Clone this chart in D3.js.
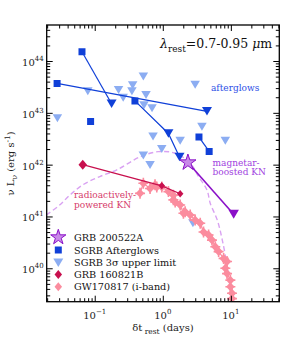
<!DOCTYPE html>
<html><head><meta charset="utf-8">
<script src="https://cdn.jsdelivr.net/npm/d3@7"></script>
<style>
body{margin:0;background:#fff}
svg{display:block}
text{font-family:"DejaVu Serif",serif}
</style>
</head><body>
<svg id="c" width="296" height="347"></svg>
<script>
// ---------------- data (rest-frame days, erg/s) ----------------
const afterglowT     = [0.065, 0.028, 0.087, 0.39, 3.4, 4.8];
const afterglowL     = [1.51e44, 3.7e43, 6.8e42, 1.7e43, 3.4e42, 1.8e42];
const afterglowGroup = ["a", "b", "c", "d", "e", "e"];

const afterglowLimT     = [0.177, 4.46, 1.21, 1.76];
const afterglowLimL     = [1.5e43, 1.07e43, 4.0e42, 1.4e42];
const afterglowLimGroup = ["a", "b", "d", "d"];

const upperLimT = [0.0283, 0.0791, 0.224, 0.262, 0.361, 0.352, 0.518, 0.567, 0.530, 0.695,
                   2.99, 3.76, 8.29, 0.719, 1.80, 0.966, 0.518, 0.650, 2.77];
const upperLimL = [7.9e42, 2.6e43, 2.75e43, 1.95e43, 3.4e43, 2.6e43, 5.0e43, 2.2e43, 1.4e43, 1.23e43,
                   3.5e43, 5.4e42, 2.9e42, 3.5e42, 2.9e42, 2.0e42, 1.5e42, 9.8e41, 7.4e40];

const grb200522aT = [2.34];
const grb200522aL = [1.1e42];
const magnetarLimT = [11.0];
const magnetarLimL = [1.1e41];

const modelT = [0.0195, 0.0305, 0.043, 0.0667, 0.119, 0.212, 0.462, 0.853, 1.52, 2.53,
                3.35, 4.46, 4.99, 6.32, 7.50, 8.87, 9.84, 10.5];
const modelL = [1.07e41, 1.66e41, 2.57e41, 4.07e41, 5.89e41, 7.94e41, 1.41e42, 1.78e42, 1.66e42, 1.07e42,
                5.89e41, 3.24e41, 1.78e41, 8.5e40, 3.47e40, 1.05e40, 3.8e39, 2.34e39];

const grb160821bT = [0.0667, 0.966, 1.80];
const grb160821bL = [1.0e42, 3.9e41, 2.75e41];

const gwT = [0.463, 0.518, 0.65, 0.769, 0.816, 0.967, 1.21, 1.43, 1.43, 1.52, 1.80, 2.01, 2.13, 2.53, 2.99,
             3.55, 3.97, 4.71, 5.28, 5.91, 6.61, 7.83, 8.79, 8.30, 8.79, 9.84, 9.84, 10.4, 10.4];
const gwL = [2.79e41, 4.37e41, 3.47e41, 4.07e41, 3.72e41, 3.72e41, 3.02e41, 2.57e41, 2.09e41, 1.91e41,
             1.66e41, 1.15e41, 1.23e41, 1.07e41, 8.5e40, 7.4e40, 5.0e40, 4.4e40, 3.5e40, 2.6e40, 2.1e40,
             1.55e40, 1.35e40, 1.0e40, 7.9e39, 5.9e39, 4.4e39, 3.3e39, 2.6e39];

const xTickValues = [0.1, 1, 10];
const xTickExp    = ["-1", "0", "1"];
const yTickValues = [1e40, 1e41, 1e42, 1e43, 1e44];
const yTickExp    = ["40", "41", "42", "43", "44"];

const legendLabels = ["GRB 200522A", "SGRB Afterglows", "SGRB 3\u03c3 upper limit", "GRB 160821B", "GW170817 (i-band)"];

// ---------------- styles ----------------
const C = {
  dark: "#1040d8", light: "#8cadf2", purple: "#8a10c8", starFill: "#c98ae8",
  model: "#d9a2f2", crimson: "#c8104e", pink: "#fb8c9e",
  agText: "#2d4fe6", magText: "#a040e0", radText: "#d63a6a"
};

const L = 46.7, R = 279.3, T = 25, B = 301.7;
const svg = d3.select("#c");
const x = d3.scaleLog().domain([0.0197, 51.5]).range([L, R]);
const y = d3.scaleLog().domain([Math.pow(10, 39.355), Math.pow(10, 44.695)]).range([B, T]);

svg.append("defs").append("clipPath").attr("id", "clip")
  .append("rect").attr("x", L).attr("y", T).attr("width", R - L).attr("height", B - T);
const plot = svg.append("g").attr("clip-path", "url(#clip)");

// marker path helpers
function triDown(w, h) { return `M${-w/2},${-h/2}L${w/2},${-h/2}L0,${h/2}Z`; }
function diamond(w, h) { return `M0,${-h/2}L${w/2},0L0,${h/2}L${-w/2},0Z`; }
function square(s) { return `M${-s/2},${-s/2}h${s}v${s}h${-s}Z`; }
function star(Ro) {
  const Ri = Ro * 0.382; let p = "";
  for (let i = 0; i < 10; i++) {
    const r = i % 2 ? Ri : Ro, a = -Math.PI / 2 + i * Math.PI / 5;
    p += (i ? "L" : "M") + (r * Math.cos(a)).toFixed(2) + "," + (r * Math.sin(a)).toFixed(2);
  }
  return p + "Z";
}

// magnetar-boosted KN model (dashed)
const line = d3.line().x(d => x(d[0])).y(d => y(d[1]));
plot.append("path")
  .attr("d", line.curve(d3.curveCatmullRom)(modelT.map((t, i) => [t, modelL[i]])))
  .attr("fill", "none").attr("stroke", C.model).attr("stroke-width", 1.4).attr("stroke-dasharray", "5,3");
line.curve(d3.curveLinear);

// SGRB 3-sigma upper limits
plot.selectAll(".ul").data(upperLimT.map((t, i) => [t, upperLimL[i]])).join("path")
  .attr("transform", d => `translate(${x(d[0])},${y(d[1])})`)
  .attr("d", triDown(9.5, 8)).attr("fill", C.light);

// GW170817
const gw = gwT.map((t, i) => [t, gwL[i]]);
plot.append("path").attr("d", line(gw))
  .attr("fill", "none").attr("stroke", C.pink).attr("stroke-width", 1.2);
plot.selectAll(".gwe").data(gw).join("line")
  .attr("x1", d => x(d[0])).attr("x2", d => x(d[0]))
  .attr("y1", d => y(d[1]) - 5.5).attr("y2", d => y(d[1]) + 5.5)
  .attr("stroke", C.pink).attr("stroke-width", 1.6);
plot.selectAll(".gwh").data(gw).join("line")
  .attr("x1", d => x(d[0]) - 5).attr("x2", d => x(d[0]) + 5)
  .attr("y1", d => y(d[1])).attr("y2", d => y(d[1]))
  .attr("stroke", C.pink).attr("stroke-width", 1.6);
plot.selectAll(".gw").data(gw).join("path")
  .attr("transform", d => `translate(${x(d[0])},${y(d[1])})`)
  .attr("d", diamond(8.5, 9)).attr("fill", C.pink);

// GRB 160821B
const g16 = grb160821bT.map((t, i) => [t, grb160821bL[i]]);
plot.append("path").attr("d", line(g16)).attr("fill", "none").attr("stroke", C.crimson).attr("stroke-width", 1.2);
plot.selectAll(".g16").data(g16).join("path")
  .attr("transform", d => `translate(${x(d[0])},${y(d[1])})`)
  .attr("d", (d, i) => i === 0 ? diamond(8.5, 10) : diamond(6.5, 7.5)).attr("fill", C.crimson);

// SGRB afterglows: lines per burst
const groups = Array.from(new Set(afterglowGroup.concat(afterglowLimGroup)));
groups.forEach(g => {
  const pts = [];
  afterglowT.forEach((t, i) => { if (afterglowGroup[i] === g) pts.push([t, afterglowL[i]]); });
  afterglowLimT.forEach((t, i) => { if (afterglowLimGroup[i] === g) pts.push([t, afterglowLimL[i]]); });
  pts.sort((a, b) => a[0] - b[0]);
  if (pts.length > 1)
    plot.append("path").attr("d", line(pts)).attr("fill", "none").attr("stroke", C.dark).attr("stroke-width", 1.2);
});
plot.selectAll(".agl").data(afterglowLimT.map((t, i) => [t, afterglowLimL[i]])).join("path")
  .attr("transform", d => `translate(${x(d[0])},${y(d[1])})`)
  .attr("d", triDown(10, 8.5)).attr("fill", C.dark);
plot.selectAll(".ag").data(afterglowT.map((t, i) => [t, afterglowL[i]])).join("path")
  .attr("transform", d => `translate(${x(d[0])},${y(d[1])})`)
  .attr("d", square(7)).attr("fill", C.dark);

// GRB 200522A + magnetar limit
plot.append("path").attr("d", line([[grb200522aT[0], grb200522aL[0]], [magnetarLimT[0], magnetarLimL[0]]]))
  .attr("stroke", C.purple).attr("stroke-width", 1.6).attr("fill", "none");
plot.selectAll(".ml").data(magnetarLimT.map((t, i) => [t, magnetarLimL[i]])).join("path")
  .attr("transform", d => `translate(${x(d[0])},${y(d[1])})`)
  .attr("d", triDown(10.5, 9)).attr("fill", C.purple);
plot.selectAll(".st").data(grb200522aT.map((t, i) => [t, grb200522aL[i]])).join("path")
  .attr("transform", d => `translate(${x(d[0])},${y(d[1])})`)
  .attr("d", star(8.5)).attr("fill", C.starFill).attr("stroke", C.purple).attr("stroke-width", 1);

// ---------------- axes ----------------
function minorTicks(scale) {
  const [a, b] = scale.domain(), out = [];
  for (let k = Math.floor(Math.log10(a)); k <= Math.ceil(Math.log10(b)); k++)
    for (let m = 2; m <= 9; m++) { const v = m * Math.pow(10, k); if (v >= a && v <= b) out.push(v); }
  return out;
}
function drawAxis(axisFn, scale, vals, size, tr) {
  const g = svg.append("g").attr("transform", tr)
    .call(axisFn(scale).tickValues(vals).tickSize(size).tickFormat(""));
  g.select(".domain").remove();
  g.selectAll("line").attr("stroke", "#000").attr("stroke-width", 1);
  return g;
}
const xMin = minorTicks(x), yMin = minorTicks(y);
drawAxis(d3.axisBottom, x, xTickValues, -6, `translate(0,${B})`);
drawAxis(d3.axisBottom, x, xMin, -3.5, `translate(0,${B})`);
drawAxis(d3.axisTop, x, xTickValues, -6, `translate(0,${T})`);
drawAxis(d3.axisTop, x, xMin, -3.5, `translate(0,${T})`);
drawAxis(d3.axisLeft, y, yTickValues, -6, `translate(${L},0)`);
drawAxis(d3.axisLeft, y, yMin, -3.5, `translate(${L},0)`);
drawAxis(d3.axisRight, y, yTickValues, -6, `translate(${R},0)`);
drawAxis(d3.axisRight, y, yMin, -3.5, `translate(${R},0)`);

svg.append("rect").attr("x", L).attr("y", T).attr("width", R - L).attr("height", B - T)
  .attr("fill", "none").attr("stroke", "#000").attr("stroke-width", 1.3);

// tick labels
xTickValues.forEach((v, i) => {
  const t = svg.append("text").attr("x", x(v)).attr("y", B + 17.5).attr("text-anchor", "middle")
    .attr("font-size", 10).attr("fill", "#222");
  t.append("tspan").text("10");
  t.append("tspan").attr("font-size", 7).attr("dy", -5).text(xTickExp[i].replace("-", "\u2212"));
});
yTickValues.forEach((v, i) => {
  const t = svg.append("text").attr("x", L - 3).attr("y", y(v) + 5).attr("text-anchor", "end")
    .attr("font-size", 10).attr("fill", "#222");
  t.append("tspan").text("10");
  t.append("tspan").attr("font-size", 7).attr("dy", -5).text(yTickExp[i]);
});

// axis titles
const xl = svg.append("text").attr("x", (L + R) / 2).attr("y", 331).attr("text-anchor", "middle")
  .attr("font-size", 10).attr("fill", "#222");
xl.append("tspan").text("\u03b4t");
xl.append("tspan").attr("font-size", 7.5).attr("dy", 3).text(" rest");
xl.append("tspan").attr("dy", -3).text(" (days)");

const yl = svg.append("text").attr("transform", `translate(14,${(T + B) / 2}) rotate(-90)`)
  .attr("text-anchor", "middle").attr("font-size", 10).attr("fill", "#222");
yl.append("tspan").text("\u03bd L");
yl.append("tspan").attr("font-size", 7.5).attr("dy", 2.5).text("\u03bd");
yl.append("tspan").attr("dy", -2.5).text(" (erg s");
yl.append("tspan").attr("font-size", 7.5).attr("dy", -4).text("-1");
yl.append("tspan").attr("dy", 4).text(")");

// title
const tt = svg.append("text").attr("x", 160).attr("y", 47.5).attr("font-size", 12.5).attr("fill", "#111");
tt.append("tspan").attr("font-style", "italic").text("\u03bb");
tt.append("tspan").attr("font-size", 9).attr("dy", 4).text("rest");
tt.append("tspan").attr("dy", -4).text("=0.7-0.95 ");
tt.append("tspan").attr("font-style", "italic").text("\u03bc");
tt.append("tspan").text("m");

// annotations
svg.append("text").attr("x", 211).attr("y", 91).attr("font-size", 9).attr("fill", C.agText).text("afterglows");
const mg = svg.append("text").attr("font-size", 9).attr("fill", C.magText);
mg.append("tspan").attr("x", 212.5).attr("y", 165.5).text("magnetar-");
mg.append("tspan").attr("x", 212.5).attr("y", 175).text("boosted KN");
const rd = svg.append("text").attr("font-size", 9).attr("fill", C.radText);
rd.append("tspan").attr("x", 74).attr("y", 198).text("radioactively-");
rd.append("tspan").attr("x", 74).attr("y", 208).text("powered KN");

// legend
const legY = [237.3, 250, 262.7, 274.5, 286.7];
const legMarks = [
  {d: star(8), fill: C.starFill, stroke: C.purple},
  {d: square(7), fill: C.dark},
  {d: triDown(10, 8.5), fill: C.light},
  {d: diamond(7.5, 9), fill: C.crimson},
  {d: diamond(7.5, 9), fill: C.pink}
];
legendLabels.forEach((lab, i) => {
  svg.append("path").attr("transform", `translate(58.3,${legY[i]})`).attr("d", legMarks[i].d)
    .attr("fill", legMarks[i].fill).attr("stroke", legMarks[i].stroke || "none").attr("stroke-width", 1);
  svg.append("text").attr("x", 74).attr("y", legY[i] + 3.5).attr("font-size", 9.7).attr("fill", "#111").text(lab);
});
</script>
</body></html>
